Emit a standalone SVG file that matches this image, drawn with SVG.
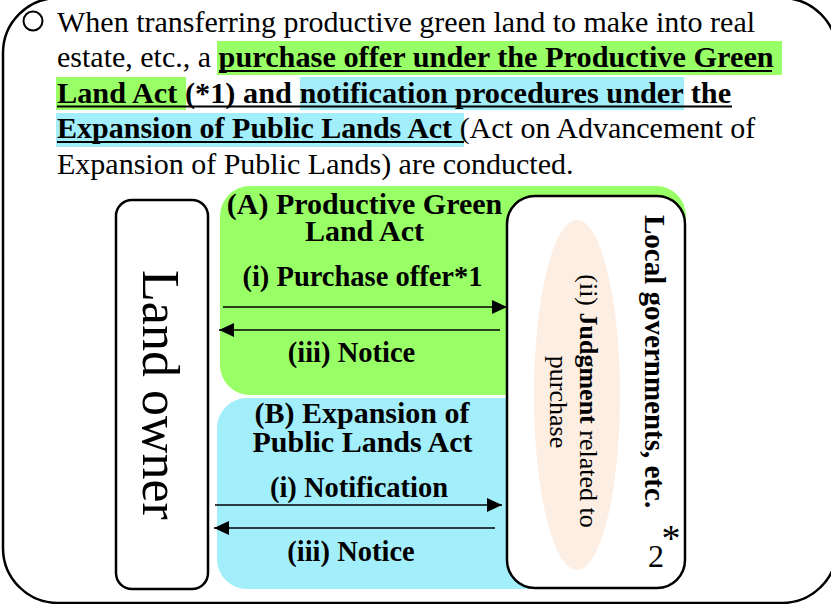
<svg xmlns="http://www.w3.org/2000/svg" width="831" height="604" viewBox="0 0 831 604">
  <style>
    text { font-family: "Liberation Serif", "Times New Roman", serif; fill: #000; }
    .para { font-size: 30px; }
    .b { font-weight: bold; font-size: 30.3px; }
    .hdr { font-size: 28.5px; font-weight: bold; text-anchor: middle; }
    .title { font-size: 30px; font-weight: bold; text-anchor: middle; }
    .box { fill: #fff; stroke: #000; stroke-width: 2.5; }
    .green { fill: #99FF66; }
    .blue { fill: #A3EEFB; }
    .uline { stroke: #000; stroke-width: 2; }
    .arrow { stroke: #000; stroke-width: 1.6; fill: none; marker-end: url(#head); }
  </style>
  <defs>
    <marker id="head" markerUnits="userSpaceOnUse" markerWidth="16" markerHeight="14" refX="15" refY="7" orient="auto">
      <path d="M0,0 L15,7 L0,14 z" fill="#000"/>
    </marker>
  </defs>

  <rect width="831" height="604" fill="#fff"/>

  <!-- outer rounded frame -->
  <rect id="frame" x="3" y="-2" width="834" height="605" rx="55" ry="55" fill="none" stroke="#000" stroke-width="2.5"/>

  <!-- introductory paragraph -->
  <g id="intro">
    <circle cx="33" cy="21" r="9.5" fill="none" stroke="#000" stroke-width="2"/>
    <rect class="green" x="217" y="41" width="565" height="34"/>
    <rect class="green" x="56" y="77" width="130" height="33"/>
    <rect class="blue" x="300" y="77" width="384" height="33"/>
    <rect class="blue" x="56" y="113" width="408" height="34"/>
    <text class="para"><tspan x="57" y="31.5">When transferring productive green land to make into real</tspan>
<tspan x="57" y="67">estate, etc., a <tspan class="b">purchase offer under the Productive Green</tspan></tspan>
<tspan x="57" y="102.5" class="b">Land Act (*1) and notification procedures under the</tspan>
<tspan x="57" y="138"><tspan class="b" style="font-size:30px">Expansion of Public Lands Act </tspan>(Act on Advancement of</tspan>
<tspan x="57" y="173.8">Expansion of Public Lands) are conducted.</tspan></text>
    <line class="uline" x1="219" y1="71" x2="772" y2="71"/>
    <line class="uline" x1="57" y1="106.5" x2="732" y2="106.5"/>
    <line class="uline" x1="57" y1="142" x2="464" y2="142"/>
  </g>

  <!-- (A) Productive Green Land Act -->
  <g id="panel-a">
    <rect class="green" x="220" y="186" width="466" height="209" rx="30" ry="30"/>
    <text class="title" x="364.5" y="214">(A) Productive Green</text>
    <text class="title" x="364.5" y="241">Land Act</text>
    <text class="hdr" x="362.5" y="286">(i) Purchase offer*1</text>
    <text class="hdr" x="351.5" y="362">(iii) Notice</text>
  </g>

  <!-- (B) Expansion of Public Lands Act -->
  <g id="panel-b">
    <rect class="blue" x="217" y="398" width="468" height="191" rx="30" ry="30"/>
    <text class="title" x="362" y="423">(B) Expansion of</text>
    <text class="title" x="362.5" y="452">Public Lands Act</text>
    <text class="hdr" x="359" y="497">(i) Notification</text>
    <text class="hdr" x="351" y="561">(iii) Notice</text>
  </g>

  <!-- Land owner -->
  <g id="land-owner">
    <rect class="box" x="116" y="200" width="92" height="389" rx="16" ry="16"/>
    <text transform="translate(143,395) rotate(90)" text-anchor="middle" font-size="52">Land owner</text>
  </g>

  <!-- Local governments -->
  <g id="local-gov">
    <rect class="box" x="507" y="196" width="178" height="392" rx="28" ry="28"/>
    <ellipse cx="577" cy="395" rx="43" ry="175" fill="#FDEEE3"/>
    <text transform="translate(580,401) rotate(90)" text-anchor="middle" font-size="26">(ii) <tspan font-weight="bold">Judgment</tspan> related to</text>
    <text transform="translate(550,402) rotate(90)" text-anchor="middle" font-size="26">purchase</text>
    <text transform="translate(645,215) rotate(90)" font-size="29" font-weight="bold">Local governments, etc.</text>
    <text x="671" y="551" text-anchor="middle" font-size="38">*</text>
    <text x="656" y="567" text-anchor="middle" font-size="32">2</text>
  </g>

  <!-- connectors -->
  <g id="connectors">
    <line class="arrow" x1="223" y1="307" x2="507" y2="307"/>
    <line class="arrow" x1="500" y1="330" x2="219" y2="330"/>
    <line class="arrow" x1="215" y1="505" x2="502" y2="505"/>
    <line class="arrow" x1="495" y1="528" x2="214" y2="528"/>
  </g>
</svg>
